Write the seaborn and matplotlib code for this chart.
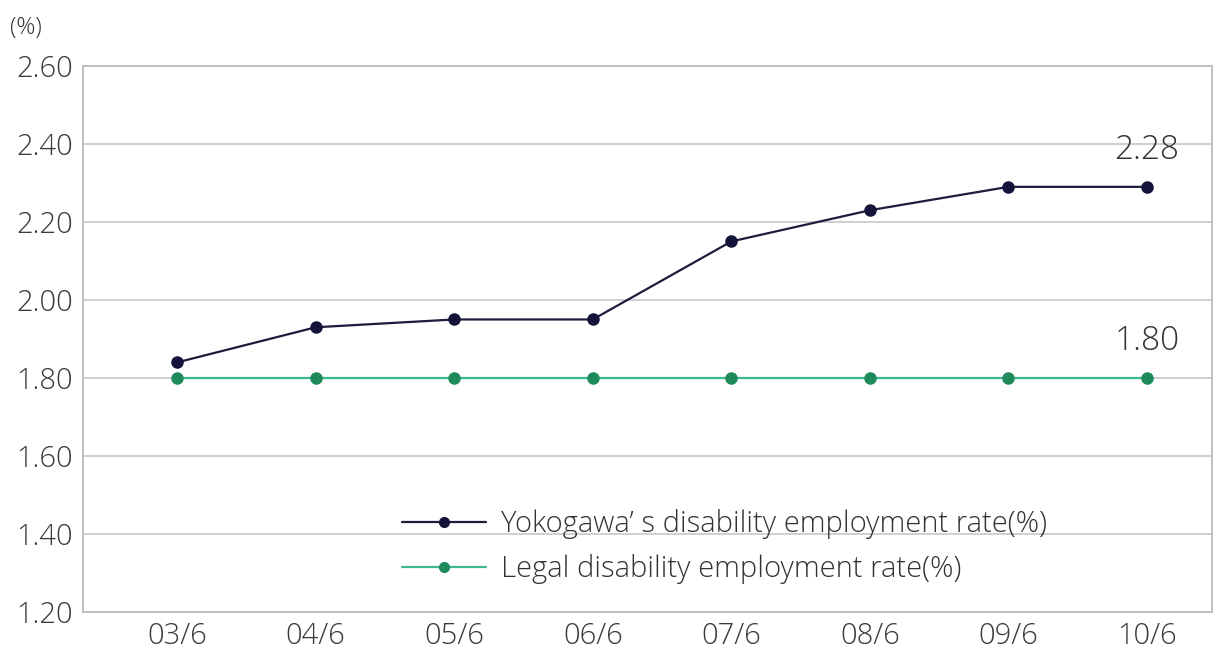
import matplotlib
matplotlib.use("Agg")
import matplotlib.pyplot as plt
import seaborn as sns
import pandas as pd
import numpy as np

categories = ["03/6", "04/6", "05/6", "06/6", "07/6", "08/6", "09/6", "10/6"]
yokogawa = [1.84, 1.93, 1.95, 1.95, 2.15, 2.23, 2.29, 2.29]
legal = [1.80, 1.80, 1.80, 1.80, 1.80, 1.80, 1.80, 1.80]
end_labels = ["2.28", "1.80"]
series_names = ["Yokogawa\u2019 s disability employment rate(%)", "Legal disability employment rate(%)"]
yticks = [1.20, 1.40, 1.60, 1.80, 2.00, 2.20, 2.40, 2.60]

sns.set_theme(style="white")
plt.rcParams['font.family'] = ['Open Sans', 'DejaVu Sans']

df = pd.DataFrame({
    "x": list(range(len(categories))) * 2,
    "value": yokogawa + legal,
    "series": [series_names[0]] * len(categories) + [series_names[1]] * len(categories),
})

fig = plt.figure(figsize=(12.15, 6.53), dpi=100)
ax = fig.add_axes([0.0683, 0.0628, 0.9292, 0.8362])

palette = {series_names[0]: "#1c1c3c", series_names[1]: "#3db88a"}
sns.lineplot(data=df, x="x", y="value", hue="series", palette=palette, ax=ax,
             linewidth=1.6, legend=False, zorder=3)
ax.plot(range(len(categories)), yokogawa, 'o', color="#14143a", markersize=8, zorder=4)
ax.plot(range(len(categories)), legal, 'o', color="#1e8a5c", markersize=8, zorder=4)

ax.set_xlim(-0.68, 7.47)
ax.set_ylim(1.20, 2.60)
ax.set_yticks(yticks)
ax.set_yticklabels([f"{v:.2f}" for v in yticks], fontsize=21, color="#3a3a3a", fontweight="light")
ax.set_xticks(range(len(categories)))
ax.set_xticklabels(categories, fontsize=21, color="#3a3a3a", fontweight="light")
ax.tick_params(axis='both', length=0, pad=7)
ax.set_xlabel("")
ax.set_ylabel("")
for y in yticks[1:-1]:
    ax.axhline(y, color="#cccccc", linewidth=1.3, zorder=1)
for s in ax.spines.values():
    s.set_color("#bbbbbb")
    s.set_linewidth(1.3)

ax.text(7, 2.34, end_labels[0], fontsize=24, color="#333333", ha="center", va="bottom", fontweight="light")
ax.text(7, 1.85, end_labels[1], fontsize=24, color="#333333", ha="center", va="bottom", fontweight="light")

fig.text(0.008, 0.975, "(%)", fontsize=17, color="#333333", ha="left", va="top", fontweight="light")

from matplotlib.lines import Line2D
handles = [Line2D([], [], color="#1c1c3c", marker='o', markerfacecolor="#14143a", markeredgecolor="#14143a", markersize=7, linewidth=1.6),
           Line2D([], [], color="#3db88a", marker='o', markerfacecolor="#1e8a5c", markeredgecolor="#1e8a5c", markersize=7, linewidth=1.6)]
leg = ax.legend(handles, series_names, loc="upper left", bbox_to_anchor=(0.272, 0.21),
                frameon=False, handlelength=2.9, handletextpad=0.5,
                labelspacing=0.52, labelcolor="#333333", borderaxespad=0,
                prop={"weight": "light", "size": 21})

fig.savefig("out.png", dpi=100)
